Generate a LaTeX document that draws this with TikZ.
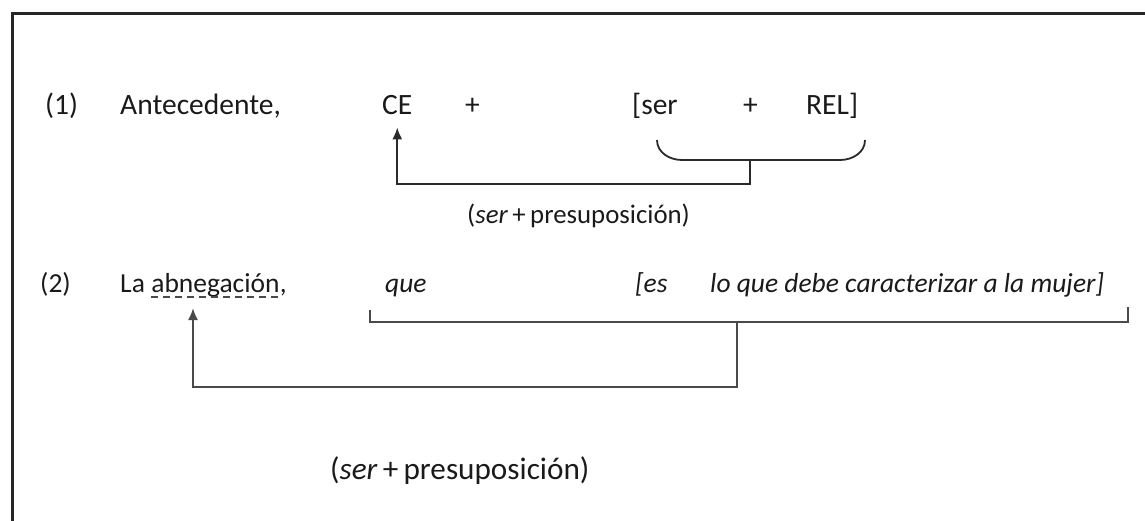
\documentclass[tikz,border=0pt]{standalone}
\usepackage{fontspec}
\setmainfont{Carlito}
\usetikzlibrary{arrows.meta}
\definecolor{ink}{HTML}{1A1A1A}
\definecolor{lineA}{HTML}{2A2A2A}
\definecolor{lineB}{HTML}{4A4A4A}
\tikzset{
  txt/.style={inner sep=0pt, anchor=base west, text=ink, font=\fontsize{29.5}{35}\selectfont},
  txtb/.style={inner sep=0pt, anchor=base west, text=ink, font=\fontsize{27.5}{33}\selectfont},
  itx/.style={txtb, font=\fontsize{27.5}{33}\selectfont\itshape},
  lbl/.style={inner sep=0pt, anchor=base west, text=ink},
  conn/.style={line width=1.8pt, draw=lineA},
  connB/.style={line width=2pt, draw=lineB},
  tip/.style={-{Latex[length=12pt,width=10pt]}},
}
\begin{document}
\begin{tikzpicture}[x=1pt,y=-1pt]
\useasboundingbox (0,0) rectangle (1145,520);
\clip (0,0) rectangle (1145,520);
\draw[line width=3pt, draw=black!85] (12,13) rectangle (1170,560);

% row 1
\node[txt] (n1) at (45,114) {(1)};
\node[txt] (ante) at (120,114) {Antecedente,};
\node[txt] (ce) at (382,114) {CE};
\node[txt] (p1) at (465,114) {+};
\node[txt] (ser) at (632,114) {[ser};
\node[txt] (p2) at (743,114) {+};
\node[txt] (rel) at (806,114) {REL]};

% brace 1
\coordinate (bl) at (657,140);
\coordinate (br) at (865,140);
\coordinate (bm) at (750,160);
\coordinate (bj) at (750,184);
\draw[conn] (bl) to[out=-90,in=180] (682,160) -- (840,160) to[out=0,in=-90] (br);
\draw[conn,tip] (bm) -- (bj) -| ([yshift=-13pt]ce.south);

\node[lbl, font=\fontsize{26.8}{31}\selectfont] (lab1) at (467,223) {(\textit{ser}\,+\,presuposición)};

% row 2
\node[txtb] (n2) at (40,292) {(2)};
\node[txtb] (la) at (120,292) {La};
\node[txtb, anchor=base west] (abn) at ([xshift=6pt]la.base east) {abnegación};
\node[txtb, anchor=base west] (comma) at (abn.base east) {,};
\draw[line width=1.3pt, draw=lineB, dash pattern=on 7pt off 5pt] ([yshift=-5pt]abn.base west) -- ([yshift=-5pt]abn.base east);
\node[itx] (que) at (385,292) {que};
\node[itx] (es) at (635,292) {[es};
\node[itx] (lo) at (710,292) {lo que debe caracterizar a la mujer]};

% bracket 2
\coordinate (kl) at (370,310);
\coordinate (kr) at (1128,307);
\coordinate (km) at (737,322);
\coordinate (kt) at (193,308);
\draw[connB] (kl) -- (370,322) -- (1128,322) -- (kr);
\draw[connB,tip] (km) -- (737,387) -| (kt);

\node[lbl, font=\fontsize{31.2}{36}\selectfont] (lab2) at (330,479) {(\textit{ser}\,+\,presuposición)};
\end{tikzpicture}
\end{document}
